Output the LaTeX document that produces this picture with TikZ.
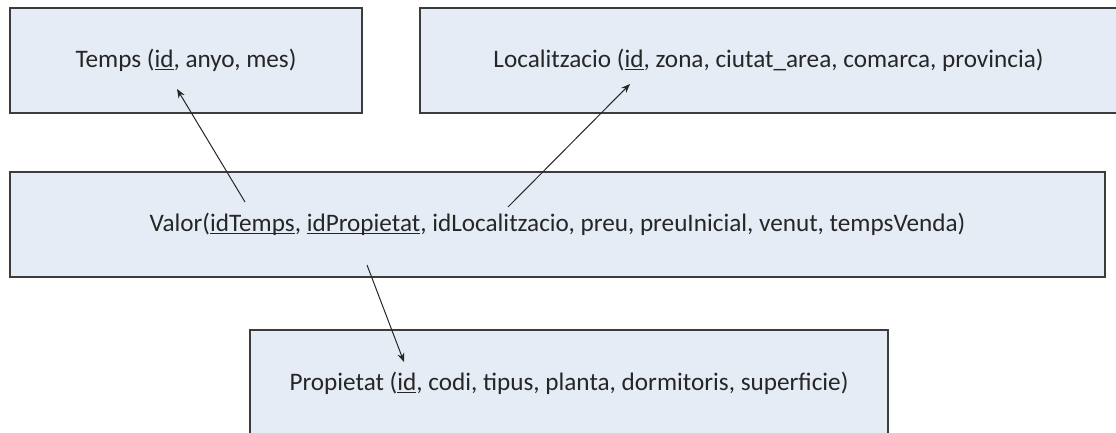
\documentclass[tikz,border=0pt]{standalone}
\usepackage{fontspec}
\setmainfont{Carlito}
\usetikzlibrary{arrows.meta}
\definecolor{boxfill}{RGB}{230,236,246}
\definecolor{boxline}{RGB}{60,60,60}
% key attribute: underline at a fixed depth below the baseline
\newcommand\keyattr[1]{\setbox0\hbox{#1}\rlap{\rule[-0.11em]{\wd0}{0.055em}}\box0}
\begin{document}
\begin{tikzpicture}[x=1pt,y=-1pt,
  entity/.style={draw=boxline,line width=1.6pt,fill=boxfill,inner sep=0pt,
    font=\fontsize{25.2}{29}\selectfont,text=black!85},
  fk/.style={line width=1pt,draw=black!85,-{Stealth[length=9pt,width=7pt]}}]
\useasboundingbox (0,0) rectangle (1116,432);
\node[entity,minimum width=352pt,minimum height=105pt] (temps) at (186,60.5)
  {Temps (\keyattr{id}, anyo, mes)};
\node[entity,minimum width=697pt,minimum height=105pt] (loc) at (768.5,60.5)
  {Localitzacio (\keyattr{id}, zona, ciutat\_area, comarca, provincia)};
\node[entity,minimum width=1095pt,minimum height=105pt] (valor) at (557.5,224.5)
  {Valor(\keyattr{idTemps}, \keyattr{idPropietat}, idLocalitzacio, preu, preuInicial, venut, tempsVenda)};
\node[entity,minimum width=638pt,minimum height=106pt] (prop) at (569,383)
  {Propietat (\keyattr{id}, codi, tipus, planta, dormitoris, superficie)};
% connector end points
\coordinate (vT) at (245,202);
\coordinate (tId) at (177,89);
\coordinate (vL) at (508,207);
\coordinate (lId) at (630,84);
\coordinate (vP) at (367,265);
\coordinate (pId) at (404,362);
\draw[fk] (vT) -- (tId);
\draw[fk] (vL) -- (lId);
\draw[fk] (vP) -- (pId);
\end{tikzpicture}
\end{document}
